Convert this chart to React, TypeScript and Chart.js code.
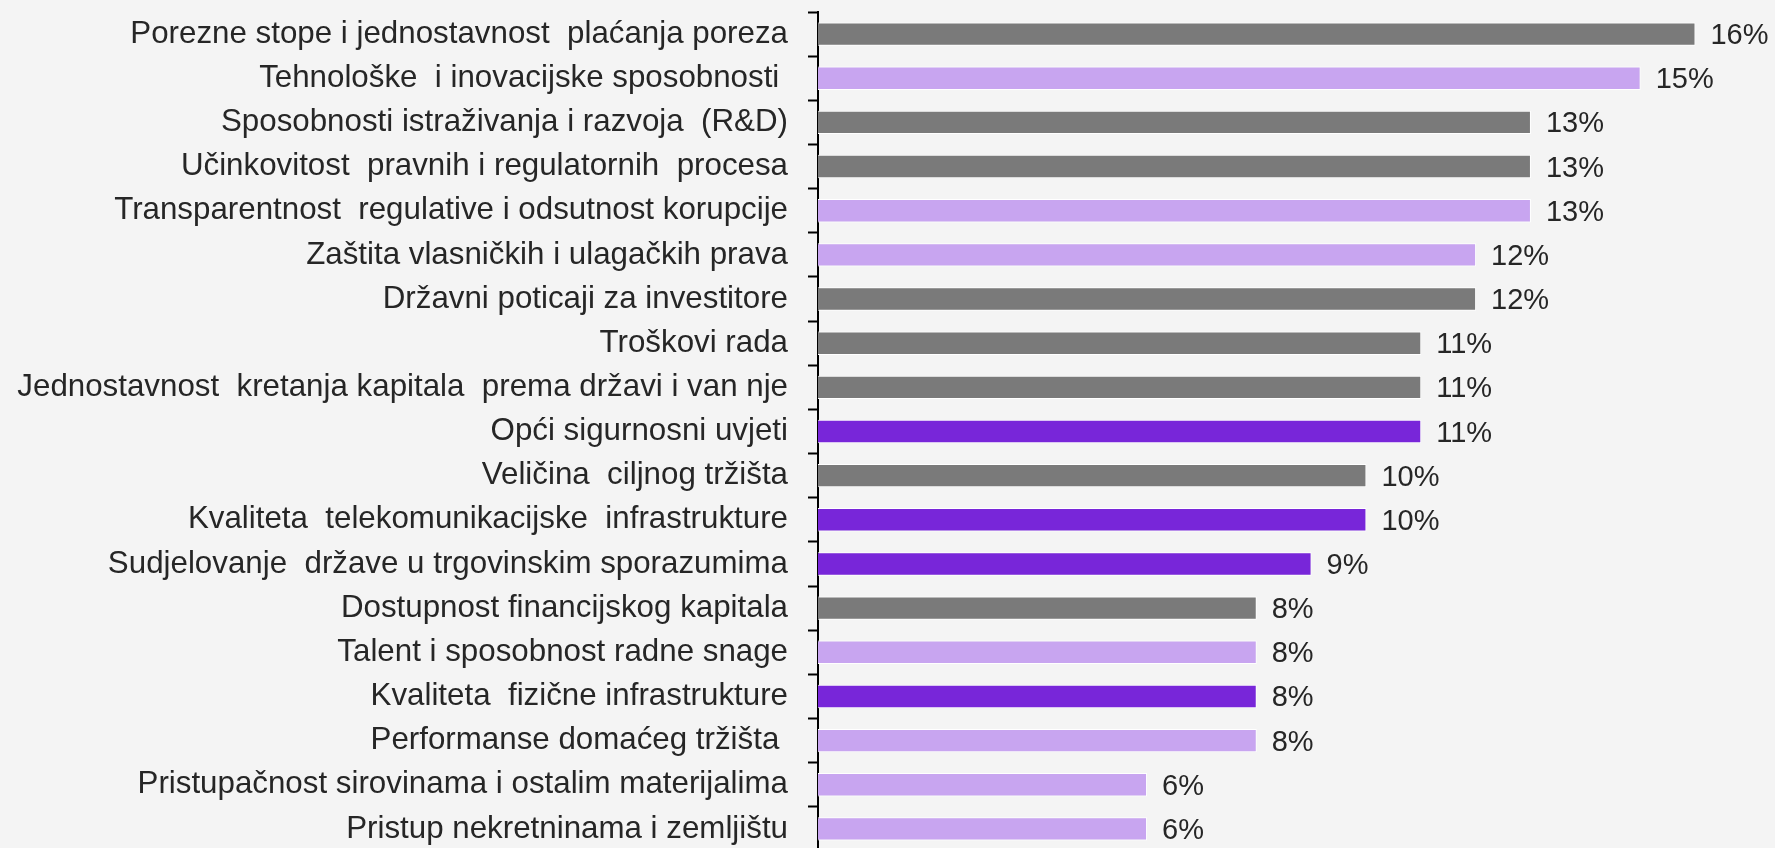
import React, { useEffect, useRef } from "react";
import { Chart, registerables } from "chart.js";

Chart.register(...registerables);

const categories: string[] = [
  "Porezne stope i jednostavnost  plaćanja poreza",
  "Tehnološke  i inovacijske sposobnosti ",
  "Sposobnosti istraživanja i razvoja  (R&D)",
  "Učinkovitost  pravnih i regulatornih  procesa",
  "Transparentnost  regulative i odsutnost korupcije",
  "Zaštita vlasničkih i ulagačkih prava",
  "Državni poticaji za investitore",
  "Troškovi rada",
  "Jednostavnost  kretanja kapitala  prema državi i van nje",
  "Opći sigurnosni uvjeti",
  "Veličina  ciljnog tržišta",
  "Kvaliteta  telekomunikacijske  infrastrukture",
  "Sudjelovanje  države u trgovinskim sporazumima",
  "Dostupnost financijskog kapitala",
  "Talent i sposobnost radne snage",
  "Kvaliteta  fizične infrastrukture",
  "Performanse domaćeg tržišta ",
  "Pristupačnost sirovinama i ostalim materijalima",
  "Pristup nekretninama i zemljištu",
];

const values: number[] = [16, 15, 13, 13, 13, 12, 12, 11, 11, 11, 10, 10, 9, 8, 8, 8, 8, 6, 6];

// g = gray, l = light purple, d = dark purple
const colorGroups: string[] = ["g", "l", "g", "g", "l", "l", "g", "g", "g", "d", "g", "d", "d", "g", "l", "d", "l", "l", "l"];

const palette: Record<string, string> = {
  g: "#7a7a7a",
  l: "#c8a5f0",
  d: "#7826d9",
};

const FONT = "'Liberation Sans', Arial, sans-serif";

const valueLabels = {
  id: "valueLabels",
  afterDatasetsDraw(chart: any) {
    const ctx = chart.ctx;
    const meta = chart.getDatasetMeta(0);
    ctx.save();
    ctx.font = `29px ${FONT}`;
    ctx.fillStyle = "#262626";
    ctx.textAlign = "left";
    ctx.textBaseline = "middle";
    meta.data.forEach((bar: any, i: number) => {
      ctx.fillText(`${values[i]}%`, bar.x + 15, bar.y + 2);
    });
    ctx.restore();
  },
};

export default function App() {
  const ref = useRef<HTMLCanvasElement | null>(null);
  useEffect(() => {
    document.body.style.margin = "0";
    document.body.style.overflow = "hidden";
    document.body.style.background = "#f4f4f4";
    const chart = new Chart(ref.current!, {
      type: "bar",
      data: {
        labels: categories,
        datasets: [
          {
            data: values,
            backgroundColor: colorGroups.map((g) => palette[g]),
            borderColor: "#ffffff",
            borderWidth: 1,
            categoryPercentage: 1,
            barPercentage: 0.53,
          },
        ],
      },
      options: {
        indexAxis: "y",
        animation: false,
        responsive: false,
        layout: { padding: { top: 12, bottom: 0, left: 0, right: 0 } },
        plugins: { legend: { display: false }, tooltip: { enabled: false } },
        scales: {
          x: { display: false, min: 0, max: 17.45 },
          y: {
            afterFit: (scale: any) => {
              scale.width = 818;
              scale.paddingTop = 0;
              scale.paddingBottom = 0;
            },
            grid: {
              drawOnChartArea: false,
              drawTicks: true,
              tickLength: 10,
              tickColor: "#000000",
              tickWidth: 2,
            },
            border: { display: true, color: "#000000", width: 2 },
            ticks: {
              color: "#262626",
              padding: 20,
              autoSkip: false,
              font: { family: FONT, size: 31.3 },
            },
          },
        },
      },
      plugins: [valueLabels],
    });
    return () => chart.destroy();
  }, []);
  return (
    <div style={{ width: 1775, height: 848, overflow: "hidden", background: "#f4f4f4" }}>
      <canvas ref={ref} width={1775} height={851} style={{ display: "block" }} />
    </div>
  );
}
